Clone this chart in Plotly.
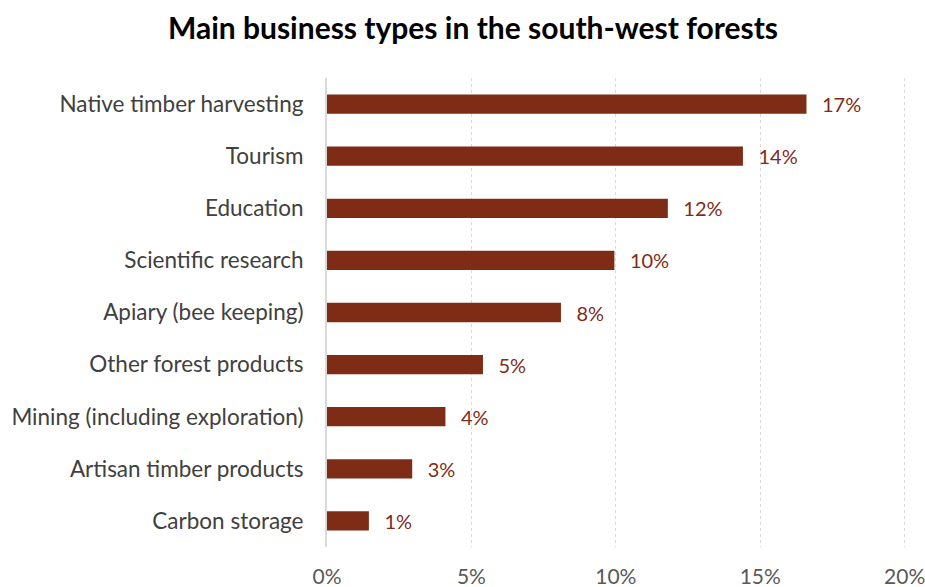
import plotly.graph_objects as go

# Share of businesses by main type (fraction of all businesses)
categories = [
    "Native timber harvesting",
    "Tourism",
    "Education",
    "Scientific research",
    "Apiary (bee keeping)",
    "Other forest products",
    "Mining (including exploration)",
    "Artisan timber products",
    "Carbon storage",
]
shares = [0.166, 0.144, 0.118, 0.0995, 0.081, 0.054, 0.041, 0.0295, 0.0145]

x_ticks = [0, 0.05, 0.10, 0.15, 0.20]

bar_color = "#7F2C17"
font_family = "Lato, 'Open Sans', sans-serif"

fig = go.Figure(
    go.Bar(
        x=shares,
        y=categories,
        orientation="h",
        marker=dict(color=bar_color, line=dict(width=0)),
        texttemplate="\u2002\u2009%{x:.0%}",
        textposition="outside",
        constraintext="none",
        cliponaxis=False,
        textfont=dict(family=font_family, size=20, color=bar_color),
        hoverinfo="skip",
    )
)

fig.update_layout(
    width=925,
    height=587,
    margin=dict(l=327, r=18, t=78, b=40, autoexpand=False),
    paper_bgcolor="white",
    plot_bgcolor="white",
    bargap=0.63,
    showlegend=False,
    font=dict(family=font_family),
    title=dict(
        text="<b>Main business types in the south-west forests</b>",
        x=473 / 925,
        xanchor="center",
        y=1 - 28 / 587,
        yanchor="middle",
        font=dict(family=font_family, size=30, color="#000000"),
    ),
)

fig.update_xaxes(
    range=[0, 0.2008],
    tickvals=x_ticks,
    tickformat=".0%",
    showgrid=True,
    gridcolor="#D9D9D9",
    griddash="dot",
    gridwidth=1,
    zeroline=False,
    showline=False,
    ticks="",
    automargin=False,
    ticklabeloverflow="allow",
    ticklabelstandoff=15,
    tickfont=dict(family=font_family, size=21, color="#595959"),
)

fig.update_yaxes(
    categoryorder="array",
    categoryarray=categories[::-1],
    showgrid=False,
    zeroline=False,
    showline=True,
    linecolor="#D9D9D9",
    linewidth=2,
    ticks="",
    automargin=False,
    ticklabelstandoff=17,
    tickfont=dict(family=font_family, size=22.5, color="#404040"),
)

fig.write_html("out.html")
